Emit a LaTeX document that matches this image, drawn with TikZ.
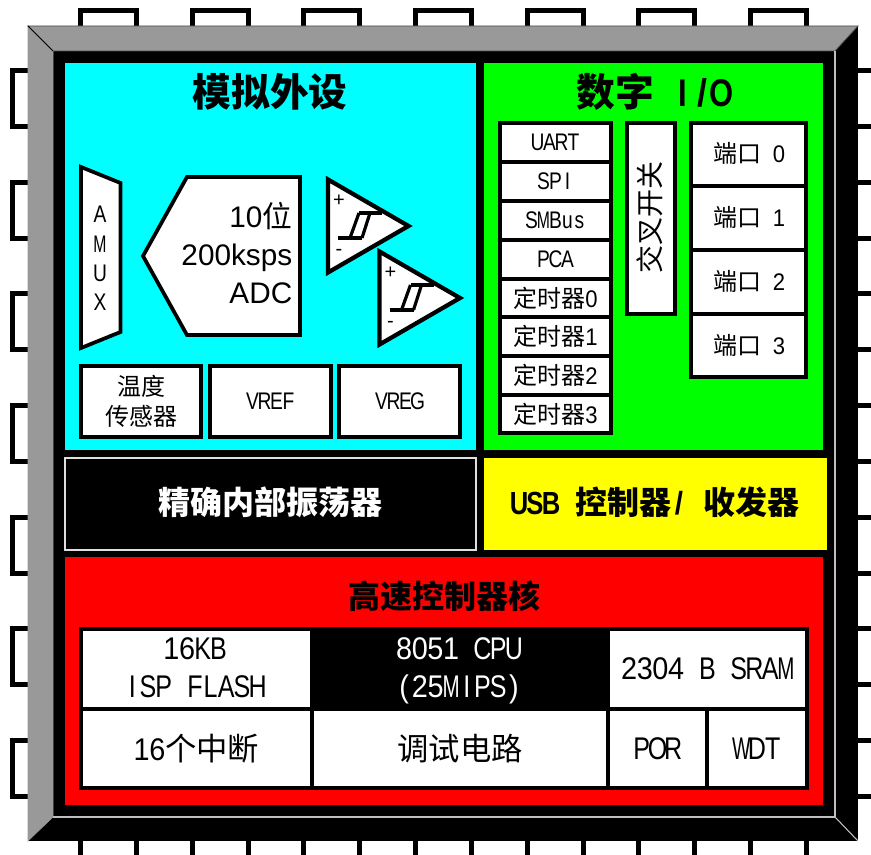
\documentclass[tikz,border=0pt]{standalone}
\usepackage{fontspec}
\usepackage{graphicx}
\setmainfont{Noto Sans CJK SC}
\newfontfamily\cjkprop{Noto Sans CJK SC}
\newfontfamily\arialf{Liberation Sans}
\newfontfamily\hwfont{Liberation Sans}[FakeStretch=0.8]
\newfontfamily\hwdig{Liberation Sans}[FakeStretch=0.92]
\definecolor{pkggray}{HTML}{999999}
\definecolor{cyanbg}{HTML}{00FFFF}
\definecolor{greenbg}{HTML}{00FF00}
\definecolor{yellowbg}{HTML}{FFFF00}
\definecolor{redbg}{HTML}{FF0000}
\newcommand{\fsz}[2]{\fontsize{#1pt}{#2pt}\selectfont}
% half-width Latin letters, each in a fixed cell
\def\hwl#1{\hwlx#1\relax}
\def\hwlx#1{\ifx#1\relax\else\hwc{#1}\expandafter\hwlx\fi}
\def\hwc#1{\makebox[.5em]{\ifnum`#1<58\relax\hwdig\else\hwfont\fi\ifx#1M\scalebox{.82}[1]{M}\else\ifx#1W\scalebox{.78}[1]{W}\else #1\fi\fi}}
\def\hws{\hskip.5em\relax}
% \cellbox[style]{name}{x1}{y1}{x2}{y2}{text}
\newcommand{\cellbox}[7][]{%
  \pgfmathsetmacro{\cbw}{(#5-#3)*0.75}%
  \pgfmathsetmacro{\cbh}{(#6-#4)*0.75}%
  \node[cellstyle,minimum width=\cbw pt,minimum height=\cbh pt,#1] (#2) at ({(#3+#5)/2},{(#4+#6)/2}) {#7};%
}
\tikzset{
  cellstyle/.style={draw=black,fill=white,line width=2.6pt,rectangle,inner sep=0pt,outer sep=0pt,align=center,text=black,font=\fsz{18}{22.5}},
  pinline/.style={draw=black,fill=white,line width=3.75pt},
  shapeline/.style={draw=black,fill=white,line width=2.8pt,line join=miter},
  hyst/.style={draw=black,line width=3pt},
  hystthin/.style={draw=black,line width=2.4pt},
  title/.style={font=\fsz{29}{36}\bfseries,text=black,inner sep=0pt},
  subtitle/.style={font=\fsz{24}{30}\bfseries,inner sep=0pt},
  bigcell/.style={font=\fsz{23.5}{28.5}},
  biglbl/.style={inner sep=0pt,align=center,font=\fsz{23.5}{28.5}},
  lbl/.style={inner sep=0pt,font=\fsz{18}{22.5}},
  sign/.style={inner sep=0pt,font=\fsz{15}{17}\arialf}
}
\begin{document}
\begin{tikzpicture}[x=0.75pt,y=-0.75pt]
\clip (0,0) rectangle (871,855);
\fill[white] (0,0) rectangle (871,855);
% pins
\foreach \i in {0,...,6}{
  \pgfmathsetmacro{\p}{78+111.67*\i}
  \pgfmathsetmacro{\q}{68+111.67*\i}
  \draw[pinline] (\p+2.5,10.5) rectangle (\p+58.5,60);
  \draw[pinline] (\p+2.5,810) rectangle (\p+58.5,861);
  \draw[pinline] (12.5,\q+2.5) rectangle (60,\q+58.5);
  \draw[pinline] (820,\q+2.5) rectangle (875,\q+58.5);
}
% package
\fill[black] (28,26) rectangle (858,841);
\filldraw[fill=pkggray,draw=black!70,line width=0.6pt] (28,26) -- (858,26) -- (835,51) -- (53,51) -- cycle;
\filldraw[fill=pkggray,draw=pkggray,line width=0.4pt] (28,26) -- (53,51) -- (53,817) -- (28,841) -- cycle;
\draw[black,line width=0.6pt] (28,26) -- (53,51);
\draw[gray!50,line width=0.8pt] (835,51) -- (835,817) -- (53,817);
\draw[gray!50,line width=0.8pt] (835,817) -- (858,841);
% panels
\fill[cyanbg] (65,63) rectangle (476,450);
\fill[greenbg] (484,63) rectangle (823,450);
\fill[yellowbg] (484,458) rectangle (827,550);
\fill[redbg] (65,557) rectangle (823,805);
\filldraw[fill=black,draw=gray!25,line width=1.3pt] (64.7,457.7) rectangle (475.7,549.7);
\node[title] (tanalog) at (270,92) {模拟外设};
\node[title] (tdigital) at (654,92) {数字\hws\hwl{I/O}};
\node[subtitle,text=white] (tosc) at (270,502) {精确内部振荡器};
\node[subtitle,text=black] (tusb) at (655,502) {\hwl{USB}\hws 控制器\hwl{/}\hws 收发器};
\node[subtitle,text=black] (tcore) at (444,596) {高速控制器核};
% AMUX
\draw[shapeline] (81,167) -- (120.5,183) -- (120.5,332) -- (81,348) -- cycle;
\node[lbl] (mA) at (100,214) {\hwl{A}};
\node[lbl] (mM) at (100,244) {\hwl{M}};
\node[lbl] (mU) at (100,273) {\hwl{U}};
\node[lbl] (mX) at (100,302) {\hwl{X}};
% ADC
\draw[shapeline] (143,256) -- (187,177) -- (300,177) -- (300,335) -- (187,335) -- cycle;
\node[inner sep=0pt,anchor=east,align=right,font=\fsz{22.3}{28.5}\arialf] (adc) at (292.5,253) {10{\cjkprop 位}\\200ksps\\ADC};
% comparators
\foreach \n/\dx/\dy in {a/0/0,b/51.5/72}{
  \begin{scope}[shift={(\dx,\dy)}]
    \draw[shapeline,line width=3.2pt] (328,179.5) -- (408.5,226) -- (328,272.5) -- cycle;
    \draw[hyst] (338,238) -- (362,238);
    \draw[hyst] (359,213) -- (382,213);
    \draw[hystthin] (350,238) -- (359,213);
    \draw[hystthin] (362,238) -- (370,213);
    \node[sign] (plus\n) at (339,201) {+};
    \node[sign] (minus\n) at (339,252) {-};
  \end{scope}
}
% lower analog boxes
\cellbox{temp}{81}{366}{201}{437}{温度\\传感器}
\cellbox{vref}{210}{366}{331}{437}{\hwl{VREF}}
\cellbox{vreg}{339}{366}{460}{437}{\hwl{VREG}}
% digital column
\cellbox{uart}{500}{123}{611}{162}{\hwl{UART}}
\cellbox{spi}{500}{162}{611}{201}{\hwl{SPI}}
\cellbox{smbus}{500}{201}{611}{240}{\hwl{SMBus}}
\cellbox{pca}{500}{240}{611}{279}{\hwl{PCA}}
\cellbox{t0}{500}{279}{611}{317}{定时器\hwl{0}}
\cellbox{t1}{500}{317}{611}{356}{定时器\hwl{1}}
\cellbox{t2}{500}{356}{611}{395}{定时器\hwl{2}}
\cellbox{t3}{500}{395}{611}{433}{定时器\hwl{3}}
% crossbar
\cellbox{xbar}{627}{123}{675}{314}{}
\node[inner sep=0pt,rotate=90,font=\fsz{21}{25}] (xbart) at (650,218) {交叉开关};
% ports
\cellbox{p0}{691}{123}{806}{186}{}
\cellbox{p1}{691}{186}{806}{250}{}
\cellbox{p2}{691}{250}{806}{314}{}
\cellbox{p3}{691}{314}{806}{377}{}
\node[lbl] (p0t) at (749,153) {端口\hws\hwl{0}};
\node[lbl] (p1t) at (749,217) {端口\hws\hwl{1}};
\node[lbl] (p2t) at (749,281) {端口\hws\hwl{2}};
\node[lbl] (p3t) at (749,345) {端口\hws\hwl{3}};
% core grid
\cellbox{flash}{81}{629}{312}{709}{}
\cellbox[fill=black]{cpu}{312}{629}{608}{709}{}
\cellbox[bigcell]{sram}{608}{629}{807}{709}{\hwl{2304}\hws\hwl{B}\hws\hwl{SRAM}}
\cellbox[bigcell]{irq}{81}{709}{312}{788}{\hwl{16}个中断}
\cellbox[bigcell]{dbg}{312}{709}{608}{788}{调试电路}
\cellbox[bigcell]{por}{608}{709}{707}{788}{\hwl{POR}}
\cellbox[bigcell]{wdt}{707}{709}{807}{788}{\hwl{WDT}}
\node[biglbl] (flasht) at (195,668) {\hwl{16KB}\\\hwl{ISP}\hws\hwl{FLASH}};
\node[biglbl,text=white] (cput) at (459,670.5) {\hwl{8051}\hws\hwl{CPU}\\\hwl{(25MIPS)}};
\end{tikzpicture}
\end{document}
